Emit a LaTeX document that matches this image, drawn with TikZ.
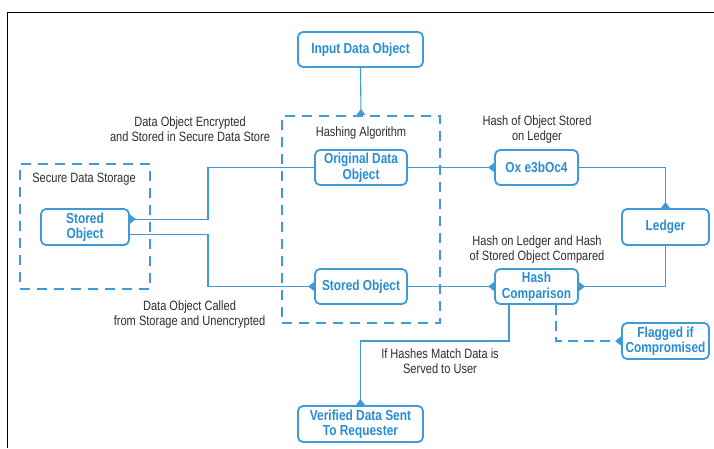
\documentclass[tikz,border=0pt]{standalone}
\usepackage{fontspec}
\setmainfont{Liberation Sans}[FakeStretch=0.82]
\usetikzlibrary{arrows.meta}

\definecolor{boxblue}{RGB}{62,155,215}
\definecolor{textblue}{RGB}{40,140,210}
\definecolor{labelgray}{RGB}{45,45,45}

\tikzset{
  block/.style={draw=boxblue, line width=1.8pt, rounded corners=5pt, text=textblue,
    font=\fontsize{14.5}{15.5}\selectfont\bfseries, align=center, inner sep=2pt},
  dashbox/.style={draw=boxblue, line width=1.8pt, dash pattern=on 10pt off 7pt},
  link/.style={draw=boxblue, line width=1.1pt, -{Triangle[reversed, length=6pt, width=9pt]}},
  lbl/.style={text=labelgray, font=\fontsize{13.5}{15}\selectfont, align=center, inner sep=0pt}
}

\begin{document}
\begin{tikzpicture}[x=1pt, y=-1pt]

\useasboundingbox (0,0) rectangle (714,448);
\draw[line width=1.5pt] (7.5,448) -- (7.5,12.5) -- (714,12.5);

\node[dashbox, minimum width=158, minimum height=207] (hashing) at (361,219.5) {};
\node[dashbox, minimum width=130, minimum height=125] (secure) at (85,226.5) {};
\node[lbl] (hashtitle) at (361,133) {Hashing Algorithm};
\node[lbl] (securetitle) at (84,179) {Secure Data Storage};

\node[block, minimum width=125, minimum height=35] (input) at (360.5,49.5) {Input Data Object};
\node[block, minimum width=92, minimum height=35] (orig) at (361,167.5) {Original Data\\Object};
\node[block, minimum width=92, minimum height=35] (storedM) at (361,286.5) {Stored Object};
\node[block, minimum width=88, minimum height=36] (storedL) at (85,227) {Stored\\Object};
\node[block, minimum width=83, minimum height=35] (ox) at (536.5,167.5) {Ox e3bOc4};
\node[block, minimum width=87, minimum height=36] (ledger) at (665.5,227) {Ledger};
\node[block, minimum width=83, minimum height=35] (hashcmp) at (536.5,286.5) {Hash\\Comparison};
\node[block, minimum width=87, minimum height=36] (flagged) at (665.5,341) {Flagged if\\Compromised};
\node[block, minimum width=125, minimum height=36] (verified) at (360.5,424) {Verified Data Sent\\To Requester};

\node[lbl] (encrypted) at (190,129.5) {Data Object Encrypted\\and Stored in Secure Data Store};
\node[lbl] (stored) at (537,129.5) {Hash of Object Stored\\on Ledger};
\node[lbl] (compared) at (537,250) {Hash on Ledger and Hash\\of Stored Object Compared};
\node[lbl] (called) at (189.5,314.5) {Data Object Called\\from Storage and Unencrypted};
\node[lbl] (served) at (440,361) {If Hashes Match Data is\\Served to User};

\coordinate (bendL) at (208,0);
\coordinate (bendB) at (0,341);
\coordinate (dropV) at (509,0);
\coordinate (dropF) at (556,0);

\draw[link] (input.south) -- (hashing.north);
\draw[link] (orig.west) -| (bendL |- storedL.10) -- (storedL.10);
\draw[link] (storedL.-10) -- (bendL |- storedL.-10) |- (storedM.west);
\draw[link] (orig.east) -- (ox.west);
\draw[link] (ox.east) -| (ledger.north);
\draw[link] (ledger.south) |- (hashcmp.east);
\draw[link] (storedM.east) -- (hashcmp.west);
\draw[link] (dropV |- hashcmp.south) -- (dropV |- bendB) -| (verified.north);
\draw[link, dash pattern=on 10pt off 6pt] (dropF |- hashcmp.south) |- (flagged.west);

\end{tikzpicture}
\end{document}
